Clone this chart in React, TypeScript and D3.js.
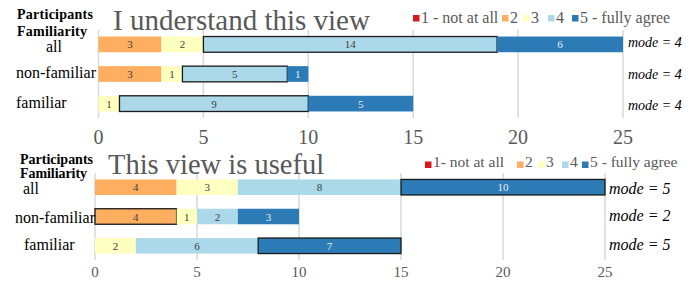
import React from "react";
import * as d3 from "d3";

const groups = ["all", "non-familiar", "familiar"];
const levels = ["1", "2", "3", "4", "5"];
const colors = ["#d7191c", "#fdae61", "#ffffbf", "#abd9e9", "#2c7bb6"];

// counts per level (1..5) for each group
const understandValues = [
  [0, 3, 2, 14, 6],
  [0, 3, 1, 5, 1],
  [0, 0, 1, 9, 5],
];
const understandModes = [4, 4, 4];

const usefulValues = [
  [0, 4, 3, 8, 10],
  [0, 4, 1, 2, 3],
  [0, 0, 2, 6, 7],
];
const usefulModes = [5, 2, 5];

const ticks = [0, 5, 10, 15, 20, 25];
const legendUnderstand = ["1 - not at all", "2", "3", "4", "5 - fully agree"];
const legendUseful = ["1- not at all", "2", "3", "4", "5 - fully agree"];

const FONT = "Liberation Serif";

type PanelProps = {
  title: string;
  values: number[][];
  modes: number[];
  legend: string[];
  g: any;
};

const Panel = ({ title, values, modes, legend, g }: PanelProps) => {
  const x = d3.scaleLinear().domain([0, 25]).range([g.x0, g.x1]);
  const y = d3.scaleBand().domain(groups).range([g.yTop, g.yBottom]).paddingInner(0.47).paddingOuter(0.22);
  const stack = d3.stack<number[]>().keys(levels.map((_, i) => String(i))).value((d, k) => d[+k]);
  const series = stack(values);

  return (
    <g style={{ fontFamily: FONT }}>
      {/* gridlines */}
      {ticks.map((t) => (
        <line key={t} x1={x(t)} x2={x(t)} y1={g.gridTop} y2={g.gridBottom} stroke="#d9d9d9" strokeWidth={1.5} />
      ))}
      {/* bars */}
      {series.map((s, li) =>
        s.map((d, gi) => {
          const v = d[1] - d[0];
          if (v <= 0) return null;
          const isMode = modes[gi] === li + 1;
          const bx = x(d[0]);
          const bw = x(d[1]) - x(d[0]);
          const by = y(groups[gi])!;
          return (
            <g key={li + "-" + gi}>
              <rect
                x={bx}
                y={by}
                width={bw}
                height={y.bandwidth()}
                fill={colors[li]}
                stroke={isMode ? "#1a1a1a" : "none"}
                strokeWidth={isMode ? 1.3 : 0}
              />
              <text
                x={bx + bw / 2}
                y={by + y.bandwidth() / 2 + 4}
                textAnchor="middle"
                fontSize={11}
                fill={li === 4 ? "#e8eef5" : "#404040"}
              >
                {v}
              </text>
            </g>
          );
        })
      )}
      {/* tick labels */}
      {ticks.map((t) => (
        <text key={t} x={x(t)} y={g.tickY} textAnchor="middle" fontSize={g.tickSize} fill="#595959">
          {t}
        </text>
      ))}
      {/* group labels */}
      {groups.map((gr, i) => (
        <text key={gr} x={g.catX[i]} y={g.catY[i]} fontSize={16} fill="#000">
          {gr}
        </text>
      ))}
      {/* mode labels */}
      {groups.map((gr, i) => (
        <text
          key={gr}
          x={g.modeX}
          y={y(gr)! + y.bandwidth() / 2 + g.modeDy[i]}
          fontSize={g.modeSize}
          fontStyle="italic"
          fill="#000"
        >
          {"mode = " + modes[i]}
        </text>
      ))}
      {/* header */}
      <text x={g.headX} y={g.headY[0]} fontSize={14} fontWeight="bold" textLength={g.headW[0]}>
        Participants
      </text>
      <text x={g.headX} y={g.headY[1]} fontSize={14} fontWeight="bold" textLength={g.headW[1]}>
        Familiarity
      </text>
      <text x={g.titleX} y={g.titleY} fontSize={g.titleSize} fill="#595959">
        {title}
      </text>
      {/* legend */}
      {legend.map((l, i) => (
        <g key={i}>
          <rect x={g.legendX[i]} y={g.legendSqY} width={6.5} height={6.5} fill={colors[i]} />
          <text x={g.legendX[i] + 8} y={g.legendY} fontSize={g.legendSize} fill="#595959">
            {l}
          </text>
        </g>
      ))}
    </g>
  );
};

const topGeom = {
  x0: 98.5,
  x1: 623,
  yTop: 30,
  yBottom: 118,
  gridTop: 30,
  gridBottom: 118,
  tickY: 144,
  tickSize: 20,
  catX: [46, 16, 16],
  catY: [52, 78, 108],
  modeX: 628,
  modeDy: [3, 5, 6],
  modeSize: 14,
  headX: 17,
  headY: [18.5, 35.5],
  headW: [76, 70],
  titleX: 113,
  titleY: 30,
  titleSize: 29,
  legendX: [413, 502, 523, 548, 572],
  legendSqY: 15,
  legendY: 23,
  legendSize: 16,
};

const bottomGeom = {
  x0: 95,
  x1: 605,
  yTop: 173,
  yBottom: 260,
  gridTop: 173,
  gridBottom: 260,
  tickY: 277,
  tickSize: 15,
  catX: [23, 15, 24],
  catY: [194, 223, 250],
  modeX: 609,
  modeDy: [7, 4, 4],
  modeSize: 16,
  headX: 20,
  headY: [164, 177.5],
  headW: [73, 67],
  titleX: 108,
  titleY: 174,
  titleSize: 28.5,
  legendX: [425, 517, 538, 562, 582],
  legendSqY: 161.5,
  legendY: 167,
  legendSize: 15.5,
};

export default function App() {
  return (
    <div style={{ position: "absolute", left: 0, top: 0 }}>
      <svg width={694} height={282} style={{ display: "block", background: "#fff" }}>
        <Panel title="I understand this view" values={understandValues} modes={understandModes} legend={legendUnderstand} g={topGeom} />
        <Panel title="This view is useful" values={usefulValues} modes={usefulModes} legend={legendUseful} g={bottomGeom} />
      </svg>
    </div>
  );
}
